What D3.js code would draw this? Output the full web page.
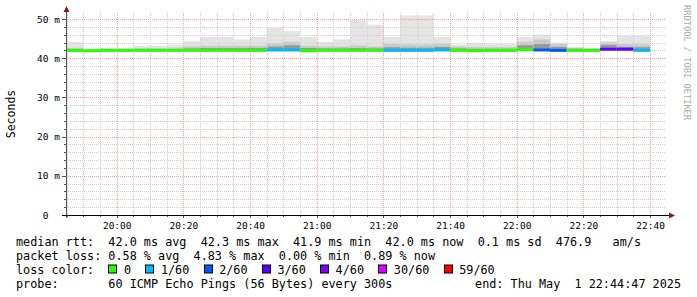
<!DOCTYPE html>
<meta charset="utf-8">
<title>Smokeping latency</title>
<style>
    body { margin: 0; background: #fff; }
    text { font-family: 'DejaVu Sans Mono', monospace; }
</style>
<script src="https://d3js.org/d3.v7.min.js"></script>
<body>
<script>
    // 5 minute bins, start time of each
    const binStarts = ["19:45","19:50","19:55","20:00","20:05","20:10","20:15","20:20","20:25","20:30",
        "20:35","20:40","20:45","20:50","20:55","21:00","21:05","21:10","21:15","21:20",
        "21:25","21:30","21:35","21:40","21:45","21:50","21:55","22:00","22:05","22:10",
        "22:15","22:20","22:25","22:30","22:35"];

    // median rtt (ms)
    const medians = [42.0, 41.9, 42.0, 42.0, 42.0, 42.0, 42.0, 42.0, 42.0, 42.0,
        42.0, 42.0, 42.1, 42.1, 41.9, 42.0, 42.0, 42.0, 42.0, 42.0,
        42.0, 42.0, 42.1, 42.0, 41.9, 42.0, 42.0, 42.2, 42.1, 42.0,
        42.0, 42.0, 42.3, 42.3, 42.0];

    // lost pings out of 60
    const losses = [0,0,0,0,0,0,0,0,0,0, 0,0,1,1,0,0,0,0,0,1, 1,1,1,0,0,0,0,0,2,2, 0,0,3,3,1];

    // smoke: slowest ping, upper band, dense core, fastest ping (ms)
    const smokeMax = [44.1, 42.3, 42.6, 42.6, 43.2, 43.2, 43.5, 44.4, 45.4, 45.4,
        44.8, 45.4, 47.7, 46.9, 45.4, 44.2, 44.8, 49.7, 48.6, 45.4,
        50.9, 50.9, 45.4, 43.5, 43.9, 43.7, 43.7, 45.4, 46.0, 44.0,
        42.9, 42.7, 44.4, 45.7, 45.7];
    const smokeMid = [42.6, 42.2, 42.4, 42.4, 42.6, 42.6, 42.7, 43.0, 43.2, 43.2,
        43.2, 43.2, 43.8, 44.2, 43.2, 43.0, 43.0, 43.3, 43.0, 43.6,
        43.5, 43.5, 43.7, 43.0, 42.9, 42.9, 42.9, 44.2, 44.8, 43.6,
        42.6, 42.5, 44.0, 43.6, 43.5];
    const smokeCore = [42.3, 42.1, 42.2, 42.2, 42.3, 42.3, 42.3, 42.5, 42.6, 42.6,
        42.6, 42.6, 43.0, 43.3, 42.6, 42.5, 42.5, 42.6, 42.5, 42.8,
        42.7, 42.7, 42.9, 42.5, 42.4, 42.4, 42.4, 43.3, 43.6, 42.9,
        42.4, 42.3, 43.4, 42.9, 42.8];
    const smokeMin = [41.8, 41.7, 41.8, 41.8, 41.8, 41.8, 41.8, 41.8, 41.8, 41.8,
        41.8, 41.8, 41.9, 41.9, 41.7, 41.8, 41.8, 41.8, 41.8, 41.8,
        41.8, 41.8, 41.9, 41.8, 41.7, 41.8, 41.8, 41.9, 41.9, 41.8,
        41.8, 41.8, 42.0, 42.0, 41.8];

    const lossLabels = ["0", "1/60", "2/60", "3/60", "4/60", "30/60", "59/60"];
    const lossSteps = [1, 2, 3, 4, 30, 59];
    const lossColors = ["#26ff00", "#00b8ff", "#0059ff", "#5e00ff", "#7e00ff", "#dd00ff", "#ff0000"];

    const yTicks = [0, 10, 20, 30, 40, 50];
    const timeTicks = ["20:00","20:20","20:40","21:00","21:20","21:40","22:00","22:20","22:40"];

    const legendLines = [
        "median rtt:  42.0 ms avg  42.3 ms max  41.9 ms min  42.0 ms now  0.1 ms sd  476.9   am/s",
        "packet loss: 0.58 % avg  4.83 % max  0.00 % min  0.89 % now"
    ];
    const probeText = "probe:       60 ICMP Echo Pings (56 Bytes) every 300s";
    const endText = "end: Thu May  1 22:44:47 2025";

    const W = 697, H = 297;
    const plot = {left: 66, right: 666, top: 13, bottom: 215};

    const svg = d3.select("body").append("svg")
        .attr("width", W).attr("height", H);

    const day = (s, sec) => {
        const [h, m] = s.split(":").map(Number);
        return new Date(Date.UTC(2025, 4, 1, h, m, sec || 0));
    };
    const t0 = day("19:44", 47), t1 = day("22:44", 47);

    const x = d3.scaleUtc().domain([t0, t1]).range([plot.left, plot.right]);
    const y = d3.scaleLinear().domain([0, 50]).range([plot.bottom, 19]);
    const lossColor = d3.scaleThreshold().domain(lossSteps).range(lossColors);

    const bins = binStarts.map((s, i) => ({
        a: day(s), b: d3.utcMinute.offset(day(s), 5),
        med: medians[i], loss: losses[i],
        max: smokeMax[i], mid: smokeMid[i], core: smokeCore[i], min: smokeMin[i]
    }));

    // smoke
    const smoke = svg.append("g");
    [["max", "#e4e4e4"], ["mid", "#cacaca"], ["core", "#999"]].forEach(([k, c]) => {
        smoke.selectAll(null).data(bins).join("rect")
            .attr("x", d => x(d.a))
            .attr("width", d => x(d.b) - x(d.a))
            .attr("y", d => y(d[k]))
            .attr("height", d => y(d.min) - y(d[k]))
            .attr("fill", c);
    });

    // grid
    const grid = svg.append("g").attr("stroke-dasharray", "1,1").attr("stroke-width", 1);
    const minorT = d3.utcMinute.every(5).range(t0, t1).filter(t => t.getUTCMinutes() % 20 !== 0);
    const majorT = d3.utcMinute.every(20).range(t0, t1);
    const minorV = d3.range(2, 51, 2).filter(v => v % 10 !== 0);
    const majorV = [10, 20, 30, 40, 50];

    grid.selectAll(".mh").data(minorV).join("line")
        .attr("x1", plot.left).attr("x2", plot.right)
        .attr("y1", d => Math.round(y(d)) + 0.5).attr("y2", d => Math.round(y(d)) + 0.5)
        .attr("stroke", "#cfcfcf");
    grid.selectAll(".mv").data(minorT).join("line")
        .attr("x1", d => Math.round(x(d)) + 0.5).attr("x2", d => Math.round(x(d)) + 0.5)
        .attr("y1", plot.top).attr("y2", plot.bottom)
        .attr("stroke", "#cfcfcf");
    grid.selectAll(".Mh").data(majorV).join("line")
        .attr("x1", plot.left).attr("x2", plot.right)
        .attr("y1", d => Math.round(y(d)) + 0.5).attr("y2", d => Math.round(y(d)) + 0.5)
        .attr("stroke", "#e9a3a3");
    grid.selectAll(".Mv").data(majorT).join("line")
        .attr("x1", d => Math.round(x(d)) + 0.5).attr("x2", d => Math.round(x(d)) + 0.5)
        .attr("y1", plot.top).attr("y2", plot.bottom)
        .attr("stroke", "#e9a3a3");

    // median lines coloured by loss
    svg.append("g").selectAll("line").data(bins).join("line")
        .attr("x1", d => x(d.a)).attr("x2", d => x(d.b))
        .attr("y1", d => y(d.med)).attr("y2", d => y(d.med))
        .attr("stroke", d => lossColor(d.loss))
        .attr("stroke-width", 3);

    // axes
    const yAxis = svg.append("g").attr("transform", `translate(${plot.left},0)`)
        .call(d3.axisLeft(y).tickValues(yTicks).tickSize(0).tickPadding(6)
            .tickFormat(d => d === 0 ? "0\u00a0\u00a0" : d + " m"));
    yAxis.select(".domain").remove();
    yAxis.selectAll("text").attr("font-size", "9.5px").attr("fill", "#000")
        .attr("font-family", "'DejaVu Sans Mono', monospace");

    const xAxis = svg.append("g").attr("transform", `translate(0,${plot.bottom})`)
        .call(d3.axisBottom(x).tickValues(timeTicks.map(s => day(s))).tickSize(0).tickPadding(7)
            .tickFormat(d3.utcFormat("%H:%M")));
    xAxis.select(".domain").remove();
    xAxis.selectAll("text").attr("font-size", "9.5px").attr("fill", "#000")
        .attr("font-family", "'DejaVu Sans Mono', monospace");

    // small tick marks on the axes
    const ticks = svg.append("g").attr("stroke", "#555").attr("stroke-width", 1);
    ticks.selectAll(".ty").data(d3.range(0, 51, 2)).join("line")
        .attr("x1", d => plot.left - (d % 10 === 0 ? 4 : 2)).attr("x2", plot.left)
        .attr("y1", d => Math.round(y(d)) + 0.5).attr("y2", d => Math.round(y(d)) + 0.5);
    ticks.selectAll(".tx").data(d3.utcMinute.every(5).range(t0, t1)).join("line")
        .attr("x1", d => Math.round(x(d)) + 0.5).attr("x2", d => Math.round(x(d)) + 0.5)
        .attr("y1", plot.bottom).attr("y2", d => plot.bottom + (d.getUTCMinutes() % 20 === 0 ? 3 : 2));

    svg.append("line")
        .attr("x1", plot.left + 0.5).attr("x2", plot.left + 0.5)
        .attr("y1", plot.bottom + 3).attr("y2", 10)
        .attr("stroke", "#555");
    svg.append("line")
        .attr("x1", plot.left - 4).attr("x2", plot.right + 4)
        .attr("y1", plot.bottom + 0.5).attr("y2", plot.bottom + 0.5)
        .attr("stroke", "#000");
    svg.append("path")
        .attr("d", `M${plot.left - 2.5},12 L${plot.left + 0.5},6 L${plot.left + 3.5},12 Z`)
        .attr("fill", "#8b1a1a");
    svg.append("path")
        .attr("d", `M${plot.right + 3},${plot.bottom - 2.5} L${plot.right + 9},${plot.bottom + 0.5} L${plot.right + 3},${plot.bottom + 3.5} Z`)
        .attr("fill", "#8b1a1a");

    // vertical label
    svg.append("text")
        .attr("transform", "translate(15,114) rotate(-90)")
        .attr("text-anchor", "middle")
        .attr("font-size", "11.5px")
        .text("Seconds");

    // watermark
    svg.append("text")
        .attr("transform", "translate(684,5) rotate(90)")
        .attr("font-size", "8.7px")
        .attr("fill", "#aaa")
        .text("RRDTOOL / TOBI OETIKER");

    // legend
    const lg = svg.append("g").attr("font-size", "11.8px").attr("fill", "#000");
    const base = [245.5, 259.5, 273.5, 287.5];
    legendLines.forEach((s, i) => {
        lg.append("text").attr("x", 16).attr("y", base[i])
            .style("white-space", "pre").text(s);
    });

    const probe = lg.append("text").attr("x", 16).attr("y", base[3])
        .style("white-space", "pre").text(probeText);
    lg.append("text").attr("x", 681).attr("y", base[3])
        .attr("text-anchor", "end").style("white-space", "pre").text(endText);

    const cw = probe.node().getComputedTextLength() / probeText.length;

    lg.append("text").attr("x", 16).attr("y", base[2]).text("loss color:");
    let xc = 16 + 13 * cw;
    lossLabels.forEach((lab, i) => {
        lg.append("rect")
            .attr("x", Math.round(xc) + 0.5).attr("y", base[2] - 8.5)
            .attr("width", 8).attr("height", 8)
            .attr("fill", lossColors[i]).attr("stroke", "#000");
        const lx = xc + 2.2 * cw;
        lg.append("text").attr("x", lx).attr("y", base[2]).text(lab);
        xc = lx + (lab.length + 2) * cw;
    });
</script>
</body>
